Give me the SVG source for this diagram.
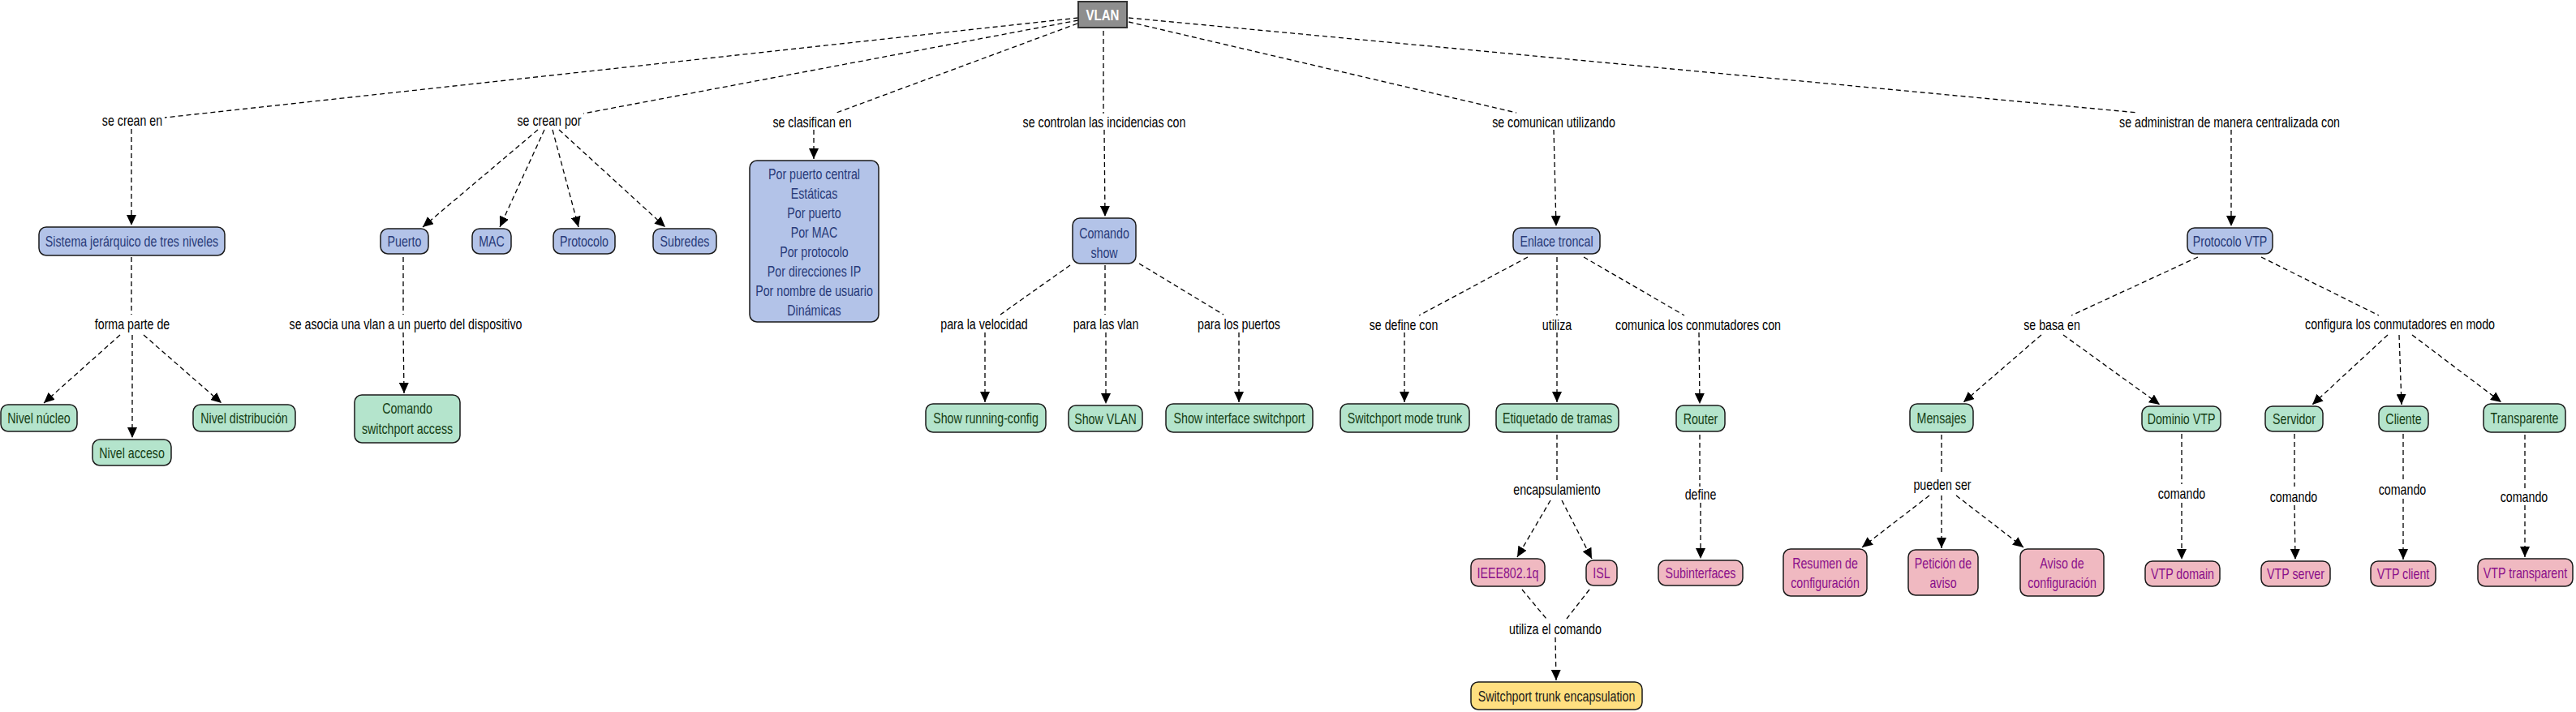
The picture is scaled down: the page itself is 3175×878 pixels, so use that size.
<svg xmlns="http://www.w3.org/2000/svg" width="3175" height="878" viewBox="0 0 3175 878">
<defs>
<marker id="arr" markerUnits="userSpaceOnUse" markerWidth="14" markerHeight="12" refX="13" refY="6" orient="auto">
<path d="M0,0 L13,6 L0,12 z" fill="#000"/>
</marker>
<style>
text{font-family:"Liberation Sans","Arial",sans-serif;font-size:18px;text-anchor:middle}
.lbl{fill:#000}
.c line{stroke:#000;stroke-width:1.3;stroke-dasharray:6 4;fill:none}
.c line.a{marker-end:url(#arr)}
.n rect{stroke:#1a1a1a;stroke-width:1.5}
.blue rect{fill:#b3c3e8}.blue text{fill:#283a78}
.green rect{fill:#b4e4cc}.green text{fill:#143d14}
.pink rect{fill:#f0b9c1}.pink text{fill:#8a0f8a}
.yellow rect{fill:#ffdf80}.yellow text{fill:#1a1a1a}
.root rect{fill:#8e8e8e;stroke:#333;stroke-width:2}
.root text{fill:#fff;font-weight:bold;font-size:19px}
</style>
</defs>
<rect width="3175" height="878" fill="#fff"/>
<g class="c" id="connectors">
<line x1="1329" y1="22" x2="203" y2="145"/>
<line x1="1329" y1="25" x2="719" y2="140"/>
<line x1="1328" y1="29" x2="1031" y2="139"/>
<line x1="1360" y1="38" x2="1360" y2="140"/>
<line x1="1391" y1="27" x2="1869" y2="139"/>
<line x1="1391" y1="22" x2="2635" y2="139"/>
<line class="a" x1="162" y1="159" x2="162" y2="278"/>
<line class="a" x1="663" y1="160" x2="521" y2="280"/>
<line class="a" x1="671" y1="160" x2="616" y2="280"/>
<line class="a" x1="681" y1="160" x2="713" y2="280"/>
<line class="a" x1="689" y1="160" x2="820" y2="280"/>
<line class="a" x1="1003" y1="160" x2="1003" y2="196"/>
<line class="a" x1="1361" y1="160" x2="1362" y2="267"/>
<line class="a" x1="1915" y1="160" x2="1918" y2="279"/>
<line class="a" x1="2750" y1="160" x2="2750" y2="279"/>
<line x1="162" y1="317" x2="162" y2="388"/>
<line x1="497" y1="317" x2="497" y2="388"/>
<line x1="1319" y1="327" x2="1233" y2="388"/>
<line x1="1362" y1="327" x2="1362" y2="388"/>
<line x1="1404" y1="325" x2="1508" y2="388"/>
<line x1="1883" y1="317" x2="1749" y2="389"/>
<line x1="1919" y1="317" x2="1919" y2="389"/>
<line x1="1952" y1="317" x2="2076" y2="389"/>
<line x1="2709" y1="317" x2="2553" y2="389"/>
<line x1="2787" y1="317" x2="2932" y2="389"/>
<line class="a" x1="148" y1="413" x2="54" y2="497"/>
<line class="a" x1="163" y1="413" x2="163" y2="540"/>
<line class="a" x1="177" y1="413" x2="273" y2="497"/>
<line class="a" x1="497" y1="410" x2="498" y2="485"/>
<line class="a" x1="1214" y1="410" x2="1214" y2="496"/>
<line class="a" x1="1363" y1="410" x2="1363" y2="498"/>
<line class="a" x1="1527" y1="410" x2="1527" y2="496"/>
<line class="a" x1="1731" y1="410" x2="1731" y2="496"/>
<line class="a" x1="1919" y1="410" x2="1919" y2="496"/>
<line class="a" x1="2094" y1="410" x2="2095" y2="498"/>
<line class="a" x1="2516" y1="413" x2="2420" y2="496"/>
<line class="a" x1="2543" y1="413" x2="2662" y2="499"/>
<line class="a" x1="2943" y1="413" x2="2850" y2="499"/>
<line class="a" x1="2957" y1="413" x2="2960" y2="499"/>
<line class="a" x1="2973" y1="413" x2="3083" y2="496"/>
<line x1="1919" y1="536" x2="1919" y2="593"/>
<line class="a" x1="1911" y1="617" x2="1870" y2="687"/>
<line class="a" x1="1925" y1="617" x2="1962" y2="689"/>
<line x1="1876" y1="727" x2="1906" y2="763"/>
<line x1="1959" y1="727" x2="1931" y2="763"/>
<line class="a" x1="1917" y1="786" x2="1918" y2="839"/>
<line x1="2095" y1="536" x2="2095" y2="600"/>
<line class="a" x1="2096" y1="620" x2="2096" y2="689"/>
<line x1="2393" y1="536" x2="2393" y2="585"/>
<line class="a" x1="2378" y1="611" x2="2295" y2="675"/>
<line class="a" x1="2393" y1="611" x2="2393" y2="676"/>
<line class="a" x1="2411" y1="611" x2="2494" y2="675"/>
<line x1="2689" y1="535" x2="2689" y2="597"/>
<line class="a" x1="2689" y1="620" x2="2689" y2="690"/>
<line x1="2828" y1="535" x2="2828" y2="600"/>
<line class="a" x1="2828" y1="623" x2="2829" y2="690"/>
<line x1="2962" y1="535" x2="2962" y2="592"/>
<line class="a" x1="2962" y1="615" x2="2962" y2="690"/>
<line x1="3112" y1="536" x2="3112" y2="602"/>
<line class="a" x1="3112" y1="623" x2="3112" y2="687"/>
</g>
<g id="labels" class="lbl">
<text transform="translate(163 155) scale(.79 1)">se crean en</text>
<text transform="translate(677 155) scale(.79 1)">se crean por</text>
<text transform="translate(1001 157) scale(.79 1)">se clasifican en</text>
<text transform="translate(1361 157) scale(.79 1)">se controlan las incidencias con</text>
<text transform="translate(1915 157) scale(.79 1)">se comunican utilizando</text>
<text transform="translate(2748 157) scale(.79 1)">se administran de manera centralizada con</text>
<text transform="translate(163 406) scale(.79 1)">forma parte de</text>
<text transform="translate(500 406) scale(.79 1)">se asocia una vlan a un puerto del dispositivo</text>
<text transform="translate(1213 406) scale(.79 1)">para la velocidad</text>
<text transform="translate(1363 406) scale(.79 1)">para las vlan</text>
<text transform="translate(1527 406) scale(.79 1)">para los puertos</text>
<text transform="translate(1730 407) scale(.79 1)">se define con</text>
<text transform="translate(1919 407) scale(.79 1)">utiliza</text>
<text transform="translate(2093 407) scale(.79 1)">comunica los conmutadores con</text>
<text transform="translate(2529 407) scale(.79 1)">se basa en</text>
<text transform="translate(2958 406) scale(.79 1)">configura los conmutadores en modo</text>
<text transform="translate(1919 610) scale(.79 1)">encapsulamiento</text>
<text transform="translate(2096 616) scale(.79 1)">define</text>
<text transform="translate(2394 604) scale(.79 1)">pueden ser</text>
<text transform="translate(1917 782) scale(.79 1)">utiliza el comando</text>
<text transform="translate(2689 615) scale(.79 1)">comando</text>
<text transform="translate(2827 619) scale(.79 1)">comando</text>
<text transform="translate(2961 610) scale(.79 1)">comando</text>
<text transform="translate(3111 619) scale(.79 1)">comando</text>
</g>
<g id="n-vlan" class="n root"><rect x="1329" y="2" width="60" height="32"/><text transform="translate(1359 25) scale(.79 1)">VLAN</text></g>
<g id="n-sistema" class="n blue"><rect x="48" y="280" width="229" height="35" rx="9"/><text transform="translate(162.5 304) scale(.79 1)">Sistema jerárquico de tres niveles</text></g>
<g id="n-puerto" class="n blue"><rect x="469" y="282" width="59" height="31" rx="9"/><text transform="translate(498.5 304) scale(.79 1)">Puerto</text></g>
<g id="n-mac" class="n blue"><rect x="582" y="282" width="48" height="31" rx="9"/><text transform="translate(606 304) scale(.79 1)">MAC</text></g>
<g id="n-protocolo" class="n blue"><rect x="682" y="282" width="76" height="31" rx="9"/><text transform="translate(720 304) scale(.79 1)">Protocolo</text></g>
<g id="n-subredes" class="n blue"><rect x="805" y="282" width="78" height="31" rx="9"/><text transform="translate(844 304) scale(.79 1)">Subredes</text></g>
<g id="n-clasif" class="n blue"><rect x="924" y="198" width="159" height="199" rx="9"/>
<text transform="translate(1003.5 221) scale(.79 1)">Por puerto central</text>
<text transform="translate(1003.5 245) scale(.79 1)">Estáticas</text>
<text transform="translate(1003.5 269) scale(.79 1)">Por puerto</text>
<text transform="translate(1003.5 293) scale(.79 1)">Por MAC</text>
<text transform="translate(1003.5 317) scale(.79 1)">Por protocolo</text>
<text transform="translate(1003.5 341) scale(.79 1)">Por direcciones IP</text>
<text transform="translate(1003.5 365) scale(.79 1)">Por nombre de usuario</text>
<text transform="translate(1003.5 389) scale(.79 1)">Dinámicas</text></g>
<g id="n-show" class="n blue"><rect x="1322" y="269" width="78" height="56" rx="9"/><text transform="translate(1361 294) scale(.79 1)">Comando</text><text transform="translate(1361 318) scale(.79 1)">show</text></g>
<g id="n-enlace" class="n blue"><rect x="1865" y="281" width="107" height="32" rx="9"/><text transform="translate(1918.5 304) scale(.79 1)">Enlace troncal</text></g>
<g id="n-vtp" class="n blue"><rect x="2696" y="281" width="105" height="32" rx="9"/><text transform="translate(2748.5 304) scale(.79 1)">Protocolo VTP</text></g>
<g id="n-nucleo" class="n green"><rect x="1" y="499" width="94" height="33" rx="9"/><text transform="translate(48 522) scale(.79 1)">Nivel núcleo</text></g>
<g id="n-acceso" class="n green"><rect x="114" y="542" width="97" height="32" rx="9"/><text transform="translate(162.5 565) scale(.79 1)">Nivel acceso</text></g>
<g id="n-distrib" class="n green"><rect x="238" y="499" width="126" height="33" rx="9"/><text transform="translate(301 522) scale(.79 1)">Nivel distribución</text></g>
<g id="n-swaccess" class="n green"><rect x="437" y="487" width="130" height="59" rx="9"/><text transform="translate(502 510) scale(.79 1)">Comando</text><text transform="translate(502 535) scale(.79 1)">switchport access</text></g>
<g id="n-runcfg" class="n green"><rect x="1141" y="498" width="148" height="35" rx="9"/><text transform="translate(1215 522) scale(.79 1)">Show running-config</text></g>
<g id="n-showvlan" class="n green"><rect x="1317" y="500" width="91" height="32" rx="9"/><text transform="translate(1362.5 523) scale(.79 1)">Show VLAN</text></g>
<g id="n-showif" class="n green"><rect x="1437" y="498" width="181" height="35" rx="9"/><text transform="translate(1527.5 522) scale(.79 1)">Show interface switchport</text></g>
<g id="n-trunk" class="n green"><rect x="1652" y="498" width="159" height="35" rx="9"/><text transform="translate(1731.5 522) scale(.79 1)">Switchport mode trunk</text></g>
<g id="n-etiq" class="n green"><rect x="1844" y="498" width="151" height="35" rx="9"/><text transform="translate(1919.5 522) scale(.79 1)">Etiquetado de tramas</text></g>
<g id="n-router" class="n green"><rect x="2066" y="500" width="60" height="32" rx="9"/><text transform="translate(2096 523) scale(.79 1)">Router</text></g>
<g id="n-mensajes" class="n green"><rect x="2354" y="498" width="78" height="35" rx="9"/><text transform="translate(2393 522) scale(.79 1)">Mensajes</text></g>
<g id="n-dominio" class="n green"><rect x="2640" y="501" width="97" height="31" rx="9"/><text transform="translate(2688.5 523) scale(.79 1)">Dominio VTP</text></g>
<g id="n-servidor" class="n green"><rect x="2792" y="501" width="71" height="31" rx="9"/><text transform="translate(2827.5 523) scale(.79 1)">Servidor</text></g>
<g id="n-cliente" class="n green"><rect x="2932" y="501" width="61" height="31" rx="9"/><text transform="translate(2962.5 523) scale(.79 1)">Cliente</text></g>
<g id="n-transp" class="n green"><rect x="3061" y="498" width="101" height="35" rx="9"/><text transform="translate(3111.5 522) scale(.79 1)">Transparente</text></g>
<g id="n-ieee" class="n pink"><rect x="1813" y="689" width="91" height="34" rx="9"/><text transform="translate(1858.5 713) scale(.79 1)">IEEE802.1q</text></g>
<g id="n-isl" class="n pink"><rect x="1955" y="691" width="38" height="31" rx="9"/><text transform="translate(1974 713) scale(.79 1)">ISL</text></g>
<g id="n-subint" class="n pink"><rect x="2044" y="691" width="104" height="31" rx="9"/><text transform="translate(2096 713) scale(.79 1)">Subinterfaces</text></g>
<g id="n-resumen" class="n pink"><rect x="2198" y="677" width="103" height="58" rx="9"/><text transform="translate(2249.5 701) scale(.79 1)">Resumen de</text><text transform="translate(2249.5 725) scale(.79 1)">configuración</text></g>
<g id="n-peticion" class="n pink"><rect x="2352" y="678" width="86" height="56" rx="9"/><text transform="translate(2395 701) scale(.79 1)">Petición de</text><text transform="translate(2395 725) scale(.79 1)">aviso</text></g>
<g id="n-aviso" class="n pink"><rect x="2490" y="677" width="103" height="58" rx="9"/><text transform="translate(2541.5 701) scale(.79 1)">Aviso de</text><text transform="translate(2541.5 725) scale(.79 1)">configuración</text></g>
<g id="n-vtpdomain" class="n pink"><rect x="2644" y="692" width="92" height="31" rx="9"/><text transform="translate(2690 714) scale(.79 1)">VTP domain</text></g>
<g id="n-vtpserver" class="n pink"><rect x="2787" y="692" width="85" height="31" rx="9"/><text transform="translate(2829.5 714) scale(.79 1)">VTP server</text></g>
<g id="n-vtpclient" class="n pink"><rect x="2922" y="692" width="80" height="31" rx="9"/><text transform="translate(2962 714) scale(.79 1)">VTP client</text></g>
<g id="n-vtptransp" class="n pink"><rect x="3054" y="689" width="117" height="34" rx="9"/><text transform="translate(3112.5 713) scale(.79 1)">VTP transparent</text></g>
<g id="n-encap" class="n yellow"><rect x="1813" y="841" width="211" height="34" rx="9"/><text transform="translate(1918.5 865) scale(.79 1)">Switchport trunk encapsulation</text></g>
</svg>
